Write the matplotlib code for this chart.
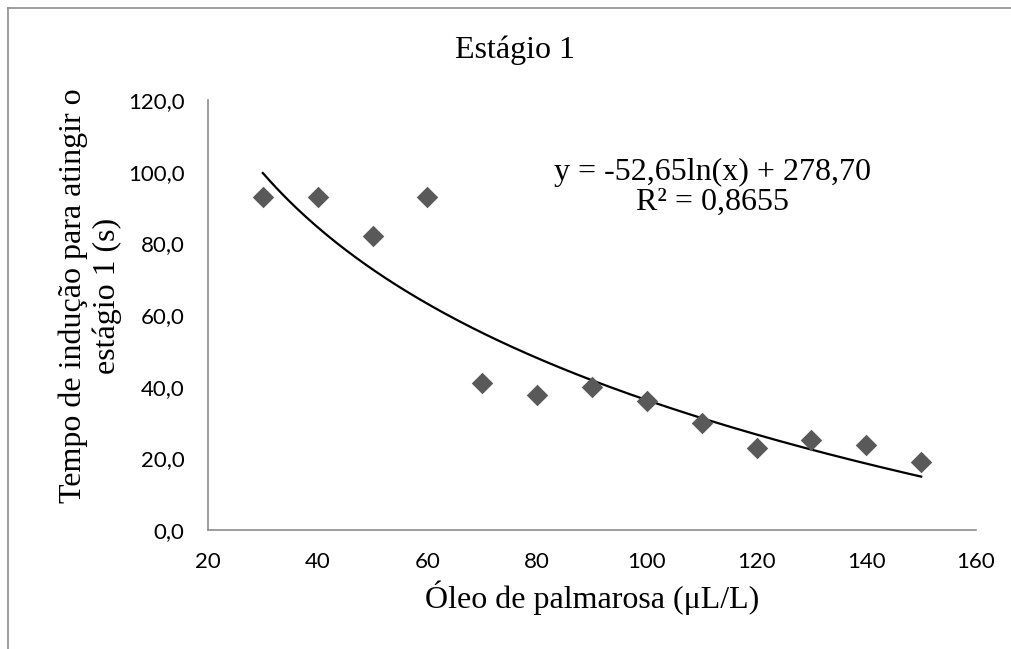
import matplotlib.pyplot as plt
import numpy as np
from matplotlib.lines import Line2D

# data
oleo = [30, 40, 50, 60, 70, 80, 90, 100, 110, 120, 130, 140, 150]
tempo = [93, 93, 82, 93, 41, 37.6, 39.8, 36, 29.8, 22.8, 25, 23.7, 19]
coef_a = -52.65
coef_b = 278.70
eq_text = "y = -52,65ln(x) + 278,70\nR² = 0,8655"

serif = ['Liberation Serif', 'DejaVu Serif']
sans = ['Lato', 'DejaVu Sans']

fig = plt.figure(figsize=(10.11, 6.49), dpi=100)
ax = fig.add_axes([0.2057, 0.1834, 0.7597, 0.6625])

ax.scatter(oleo, tempo, marker='D', s=120, color='#595959', zorder=3, linewidths=0)

xf = np.linspace(min(oleo), max(oleo), 200)
ax.plot(xf, coef_a * np.log(xf) + coef_b, color='black', lw=1.6)

ax.set_xlim(20, 160)
ax.set_ylim(0, 120)
ax.set_xticks(range(20, 161, 20))
ax.set_yticks(range(0, 121, 20))
ax.set_yticklabels([f"{v},0" for v in range(0, 121, 20)])
ax.tick_params(length=0, labelsize=16, labelcolor='black')
for lab in ax.get_xticklabels() + ax.get_yticklabels():
    lab.set_family(sans)
ax.tick_params(axis='x', pad=16)
ax.tick_params(axis='y', pad=17)

for s in ['top', 'right']:
    ax.spines[s].set_visible(False)
for s in ['left', 'bottom']:
    ax.spines[s].set_color('#8c8c8c')
    ax.spines[s].set_linewidth(1.2)

ax.set_xlabel('Óleo de palmarosa (μL/L)', family=serif, fontsize=23, labelpad=6)
ax.set_ylabel('Tempo de indução para atingir o\nestágio 1 (s)', family=serif, fontsize=23,
              linespacing=1.2)
ax.yaxis.set_label_coords(-0.112, 0.544)
fig.text(0.5094, 0.923, 'Estágio 1', family=serif, fontsize=23, ha='center', va='center')
ax.text(0.657, 0.797, eq_text, transform=ax.transAxes, family=serif, fontsize=23,
        ha='center', va='center', linespacing=1.0)

# outer chart frame (cut at right and bottom)
fig.add_artist(Line2D([0.008, 0.008], [0.0, 0.988], color='#8c8c8c', lw=1.2, transform=fig.transFigure))
fig.add_artist(Line2D([0.008, 1.0], [0.988, 0.988], color='#8c8c8c', lw=1.2, transform=fig.transFigure))

plt.savefig('out.png', dpi=100)
